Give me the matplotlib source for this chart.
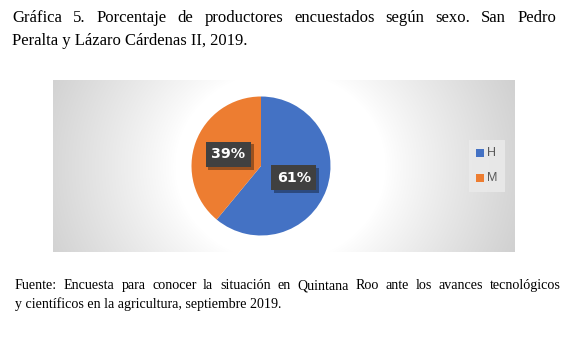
import numpy as np
import matplotlib.pyplot as plt
from matplotlib import patheffects
from matplotlib.patches import Rectangle

# Datos
labels = ['H', 'M']
values = [61, 39]
colors = ['#4472C4', '#ED7D31']

title_lines = ['Gráfica 5. Porcentaje de productores encuestados según sexo. San Pedro',
               'Peralta y Lázaro Cárdenas II, 2019.']
source_lines = ['Fuente: Encuesta para conocer la situación en Quintana Roo ante los avances tecnológicos',
                'y científicos en la agricultura, septiembre 2019.']

W, H = 582, 344
fig = plt.figure(figsize=(W / 100, H / 100), dpi=100)
renderer = fig.canvas.get_renderer()

def fx(px):
    return px / W

def fy(py):
    return 1 - py / H

def justified(line, x0, x1, y, **kw):
    # coloca cada palabra para que la línea ocupe de x0 a x1
    words = line.split(' ')
    objs = [fig.text(0, fy(y), w_, va='baseline', ha='left', **kw) for w_ in words]
    widths = [o.get_window_extent(renderer).width for o in objs]
    gap = (x1 - x0 - sum(widths)) / (len(words) - 1)
    x = x0
    for o, wd in zip(objs, widths):
        o.set_x(fx(x))
        x += wd + gap

# Fondo del gráfico con degradado radial
bx0, bx1, by0, by1 = 53, 515, 80, 252
bg = fig.add_axes([fx(bx0), fy(by1), fx(bx1 - bx0), (by1 - by0) / H])
xx, yy = np.meshgrid(np.arange(bx0, bx1), np.arange(by0, by1))
d = np.hypot(xx - 280, (yy - 166) * 1.1)
t = np.clip((d - 105) / 190, 0, 1) ** 0.9
shade = 1 - t * (1 - 0.77)
img = np.dstack([shade, shade, shade])
bg.imshow(img, extent=(0, 1, 0, 1), aspect='auto')
bg.set_xlim(0, 1)
bg.set_ylim(0, 1)
bg.axis('off')

# Pastel
cx, cy, r = 261, 166, 69.5
ax = fig.add_axes([fx(cx - r), fy(cy + r), 2 * r / W, 2 * r / H])
wedges, texts, autotexts = ax.pie(values, colors=colors, startangle=90, counterclock=False,
                                  autopct='%1.0f%%', pctdistance=0.5, radius=1,
                                  wedgeprops=dict(linewidth=0))
for at in autotexts:
    at.set_color('white')
    at.set_fontweight('bold')
    at.set_fontsize(10.3)
    at.set_bbox(dict(boxstyle='square,pad=0.4', facecolor='#404040', edgecolor='none'))
    at.get_bbox_patch().set_path_effects([
        patheffects.SimplePatchShadow(offset=(2, -2), shadow_rgbFace='black', alpha=0.35),
        patheffects.Normal()])
ax.set_xlim(-1, 1)
ax.set_ylim(-1, 1)
ax.set_aspect('equal')
ax.axis('off')

# Leyenda
fig.patches.append(Rectangle((fx(469), fy(192)), fx(505 - 469), (192 - 140) / H,
                             transform=fig.transFigure, facecolor='#ebebeb',
                             edgecolor='none', alpha=0.8))
for i, (lab, col) in enumerate(zip(labels, colors)):
    ly = 153 + i * 25
    fig.patches.append(Rectangle((fx(476), fy(ly + 4)), fx(8), 8 / H,
                                 transform=fig.transFigure, facecolor=col, edgecolor='none'))
    fig.text(fx(487), fy(ly), lab, fontsize=9, color='#595959', va='center', ha='left',
             family='Liberation Sans')

# Título y fuente
justified(title_lines[0], 12, 556, 22, fontsize=12.0, family='Liberation Serif')
fig.text(fx(12), fy(45), title_lines[1], fontsize=12.0, family='Liberation Serif',
         va='baseline', ha='left')
justified(source_lines[0], 15, 561, 289, fontsize=10.1, family='Liberation Serif')
fig.text(fx(15), fy(308), source_lines[1], fontsize=10.1, family='Liberation Serif',
         va='baseline', ha='left')

fig.savefig('out.png', dpi=100)
